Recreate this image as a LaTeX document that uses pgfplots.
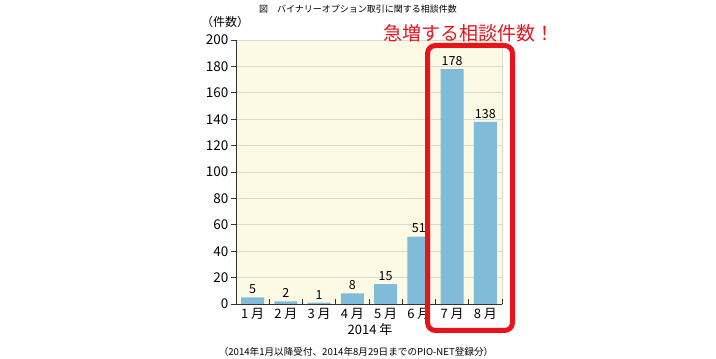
\documentclass[border=0pt]{standalone}
\usepackage{fontspec}
\setmainfont{Noto Sans CJK JP}
\usepackage{pgfplots}
\pgfplotsset{compat=1.18}
\definecolor{bgc}{HTML}{FCFAE4}
\definecolor{barc}{HTML}{80BCDA}
\definecolor{gridc}{HTML}{DEDACB}
\definecolor{redc}{HTML}{E8141C}
\definecolor{axc}{HTML}{333333}
\begin{document}
\begin{tikzpicture}[x=1pt,y=1pt]
\useasboundingbox (0,0) rectangle (716,359);
\begin{axis}[
  at={(236pt,55pt)}, anchor=south west,
  scale only axis, width=266pt, height=264pt,
  xmin=0.5, xmax=8.5, ymin=0, ymax=200,
  axis x line*=bottom, axis y line*=left,
  axis line style={axc, line width=0.8pt},
  axis background/.style={fill=bgc, draw=gridc},
  ytick={0,20,...,200},
  xtick={1,...,8},
  xticklabels={1 月,2 月,3 月,4 月,5 月,6 月,7 月,8 月},
  minor xtick={1.5,2.5,...,8.5},
  tick align=inside,
  major tick length=5pt, minor tick length=5pt,
  major x tick style={draw=none},
  minor x tick style={axc, line width=0.8pt},
  major y tick style={axc, line width=0.8pt, xshift=-5pt},
  ymajorgrids, grid style={gridc, line width=0.6pt},
  /pgf/number format/assume math mode=true,
  yticklabel style={font=\fontsize{13.5}{13.5}\selectfont, xshift=-4pt},
  xticklabel style={font=\fontsize{13}{13}\selectfont, yshift=-1pt},
  enlargelimits=false, clip=false,
]
\addplot[ybar, bar width=23pt, fill=barc, draw=none,
  nodes near coords, nodes near coords style={font=\fontsize{12.5}{12.5}\selectfont, black}]
  coordinates {(1,5) (2,2) (3,1) (4,8) (5,15) (6,51) (7,178) (8,138)};
\end{axis}
\node[font=\fontsize{9}{9}\selectfont] at (358,350) {図　バイナリーオプション取引に関する相談件数};
\node[font=\fontsize{12}{12}\selectfont] at (225,337) {（件数）};
\node[font=\fontsize{19}{19}\selectfont, text=redc] at (469,326) {急増する相談件数！};
\node[font=\fontsize{13}{13}\selectfont] at (370,29) {2014 年};
\node[font=\fontsize{9.6}{9.6}\selectfont] at (356,7) {（2014年1月以降受付、2014年8月29日までのPIO-NET登録分）};
\draw[redc, line width=5pt, rounded corners=8pt] (427.5,28.5) rectangle (512.5,313.5);
\end{tikzpicture}
\end{document}
